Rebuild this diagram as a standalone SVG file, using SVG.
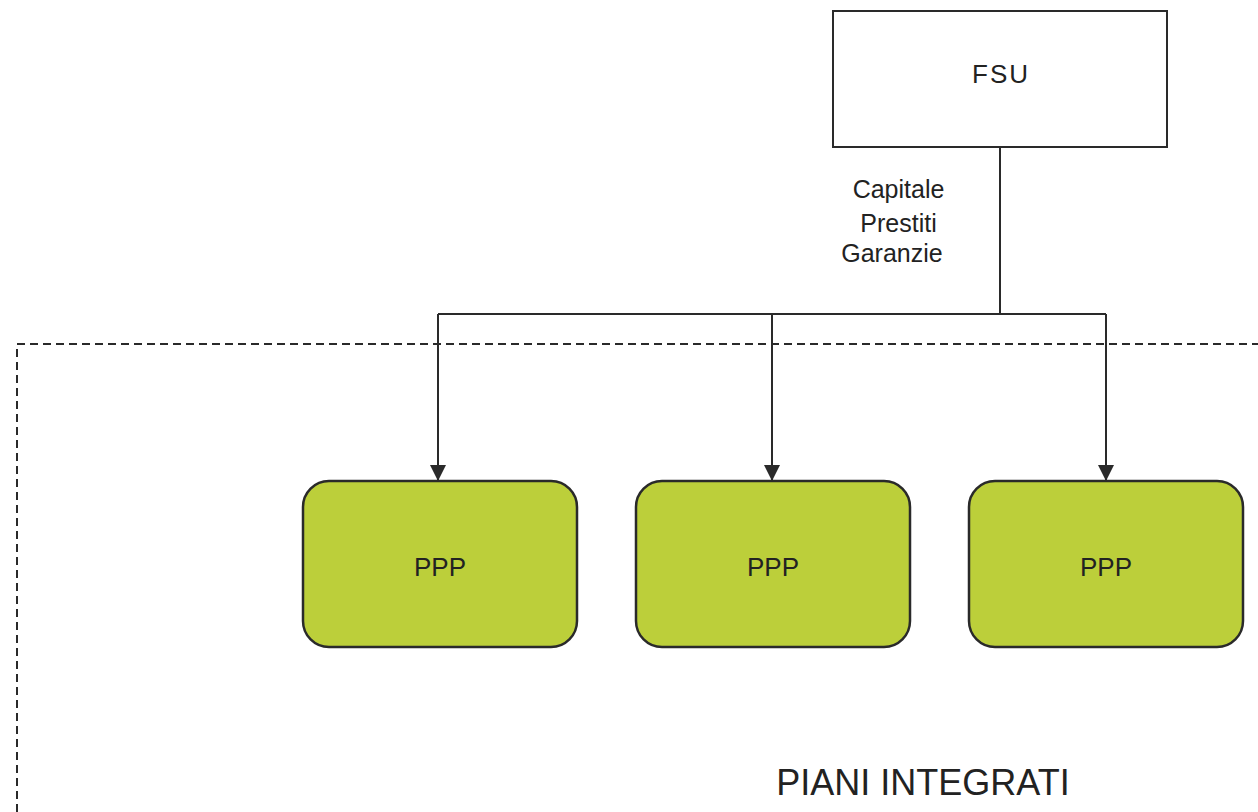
<svg xmlns="http://www.w3.org/2000/svg" width="1258" height="812" viewBox="0 0 1258 812">
  <style>
    .lbl { font-family: "Liberation Sans", Arial, sans-serif; fill: #222; }
    .box { fill: #fff; stroke: #2a2a2a; stroke-width: 2; }
    .ppp { fill: #bccf3a; stroke: #2a2a2a; stroke-width: 2.5; }
    .wire { fill: none; stroke: #2a2a2a; stroke-width: 2; }
  </style>
  <defs>
    <marker id="arrow" markerWidth="16" markerHeight="16" refX="16" refY="8" orient="auto" markerUnits="userSpaceOnUse" viewBox="0 0 16 16">
      <path d="M0,0 L16,8 L0,16 z" fill="#2a2a2a"/>
    </marker>
  </defs>

  <!-- dashed frame for the integrated plans -->
  <g id="frame">
    <path d="M17,812 L17,344 L1258,344" fill="none" stroke="#2a2a2a" stroke-width="2" stroke-dasharray="8,5"/>
    <text class="lbl" x="923" y="795" font-size="36" text-anchor="middle">PIANI INTEGRATI</text>
  </g>

  <g id="fsu">
    <rect class="box" x="833" y="11" width="334" height="136"/>
    <text class="lbl" x="1001" y="83" font-size="26" text-anchor="middle" letter-spacing="2">FSU</text>
  </g>

  <g id="connectors">
    <path class="wire" d="M1000,147 L1000,314"/>
    <path class="wire" d="M438,314 L1106,314"/>
    <path class="wire" d="M438,314 L438,481" marker-end="url(#arrow)"/>
    <path class="wire" d="M772,314 L772,481" marker-end="url(#arrow)"/>
    <path class="wire" d="M1106,314 L1106,481" marker-end="url(#arrow)"/>
    <text class="lbl" font-size="25" text-anchor="middle">
      <tspan x="902" y="198">Capitale</tspan>
      <tspan x="902" y="232">Prestiti</tspan>
      <tspan x="892" y="262">Garanzie</tspan>
    </text>
  </g>

  <g id="ppp1">
    <rect class="ppp" x="303" y="481" width="274" height="166" rx="26"/>
    <text class="lbl" x="440" y="576" font-size="26" text-anchor="middle">PPP</text>
  </g>
  <g id="ppp2">
    <rect class="ppp" x="636" y="481" width="274" height="166" rx="26"/>
    <text class="lbl" x="773" y="576" font-size="26" text-anchor="middle">PPP</text>
  </g>
  <g id="ppp3">
    <rect class="ppp" x="969" y="481" width="274" height="166" rx="26"/>
    <text class="lbl" x="1106" y="576" font-size="26" text-anchor="middle">PPP</text>
  </g>
</svg>
